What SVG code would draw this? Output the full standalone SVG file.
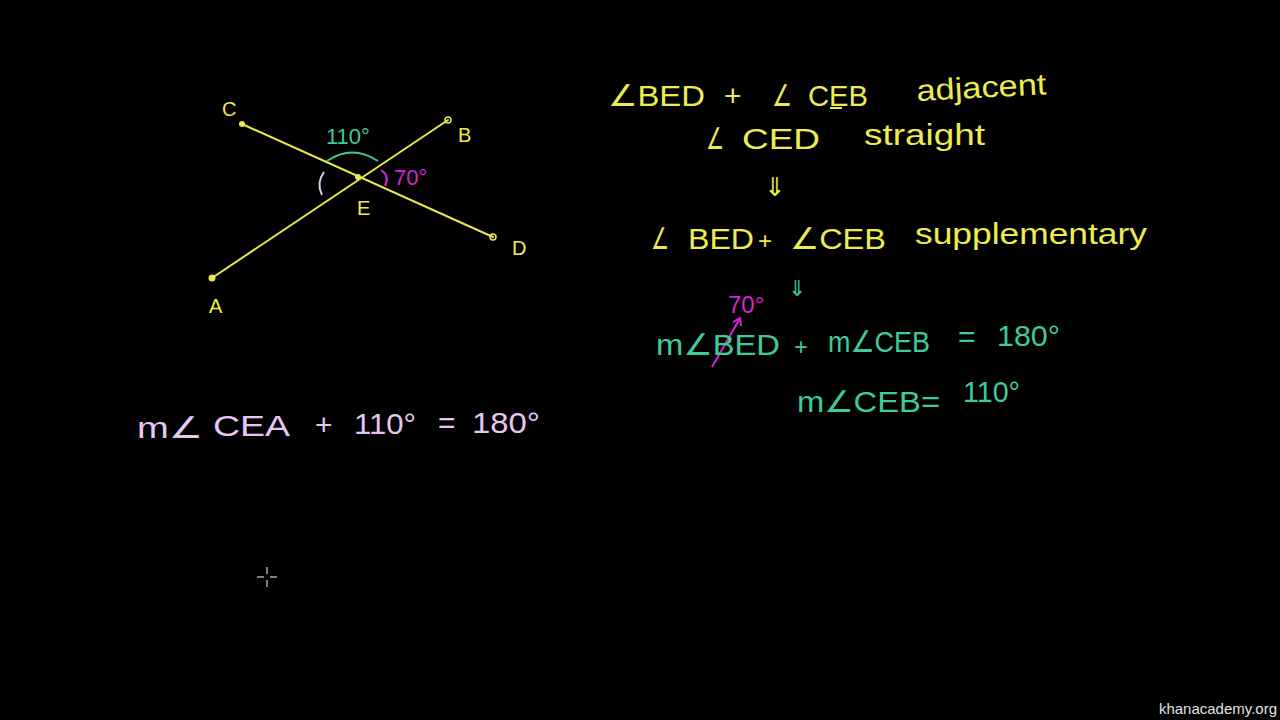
<svg xmlns="http://www.w3.org/2000/svg" width="1280" height="720" viewBox="0 0 1280 720">
<style>
text{font-family:"Liberation Sans","DejaVu Sans",sans-serif;font-size:30px;}
.y{fill:#ecec50;}
.g{fill:#3ecb98;}
.m{fill:#d624d6;}
.p{fill:#e6c6f2;}
.ln{stroke:#e8e84a;stroke-width:2;fill:none;stroke-linecap:round;}
.dot{fill:#e8e84a;}
.lbl{font-size:20px;}
</style>
<rect width="1280" height="720" fill="#000"/>
<g id="figure">
<line class="ln" x1="242" y1="124" x2="493" y2="237"/>
<line class="ln" x1="212" y1="278" x2="448" y2="120"/>
<circle class="dot" cx="242" cy="124" r="3"/>
<circle cx="448" cy="120" r="3" fill="none" stroke="#e8e84a" stroke-width="1.5"/>
<circle class="dot" cx="212" cy="278" r="3.5"/>
<circle cx="493" cy="237" r="3" fill="none" stroke="#e8e84a" stroke-width="1.5"/>
<circle class="dot" cx="358" cy="177" r="3"/>
<path d="M327 161 Q352 144 378 161" stroke="#3ecb98" stroke-width="2" fill="none"/>
<path d="M324 172 Q316 183 322 195" stroke="#e6c6f2" stroke-width="2" fill="none"/>
<path d="M381 170 Q390 176 385 186" stroke="#d624d6" stroke-width="2" fill="none"/>
<text class="y lbl" x="222" y="116">C</text>
<text class="y lbl" x="458" y="142">B</text>
<text class="y lbl" x="512" y="255">D</text>
<text class="y lbl" x="209" y="313">A</text>
<text class="y lbl" x="357" y="215">E</text>
<text class="g" x="326" y="144" style="font-size:22px">110°</text>
<text class="m" x="394" y="185" style="font-size:22px">70°</text>
</g>
<g id="notes">
<text class="y" x="608" y="106" textLength="97" lengthAdjust="spacingAndGlyphs">∠BED</text>
<text class="y" x="724" y="106">+</text>
<text class="y" x="772" y="106" textLength="20" lengthAdjust="spacingAndGlyphs">∠</text>
<text class="y" x="808" y="106" textLength="60" lengthAdjust="spacingAndGlyphs">CEB</text>
<line x1="830" y1="108" x2="842" y2="108" stroke="#ecec50" stroke-width="2"/>
<text class="y" x="917" y="101" textLength="130" lengthAdjust="spacingAndGlyphs" transform="rotate(-3 917 101)">adjacent</text>
<text class="y" x="706" y="149" textLength="18" lengthAdjust="spacingAndGlyphs">∠</text>
<text class="y" x="742" y="149" textLength="78" lengthAdjust="spacingAndGlyphs">CED</text>
<text class="y" x="864" y="145" textLength="121" lengthAdjust="spacingAndGlyphs">straight</text>
<text class="y" x="764" y="196" style="font-size:26px">⇓</text>
<text class="y" x="651" y="249" textLength="18" lengthAdjust="spacingAndGlyphs">∠</text>
<text class="y" x="688" y="249" textLength="66" lengthAdjust="spacingAndGlyphs">BED</text>
<text class="y" x="758" y="249" style="font-size:24px">+</text>
<text class="y" x="790" y="249" textLength="96" lengthAdjust="spacingAndGlyphs">∠CEB</text>
<text class="y" x="915" y="244" textLength="232" lengthAdjust="spacingAndGlyphs">supplementary</text>
<text class="g" x="788" y="296" style="font-size:22px">⇓</text>
<text class="m" x="728" y="313" style="font-size:24px">70°</text>
<line x1="712" y1="367" x2="739" y2="320" stroke="#d624d6" stroke-width="2"/>
<path d="M733 322 L740 318 L741 326" stroke="#d624d6" stroke-width="2" fill="none"/>
<text class="g" x="656" y="355" textLength="124" lengthAdjust="spacingAndGlyphs">m∠BED</text>
<text class="g" x="794" y="355" style="font-size:24px">+</text>
<text class="g" x="828" y="352" textLength="102" lengthAdjust="spacingAndGlyphs">m∠CEB</text>
<text class="g" x="958" y="347">=</text>
<text class="g" x="997" y="346" textLength="63" lengthAdjust="spacingAndGlyphs">180°</text>
<text class="g" x="797" y="412" textLength="143" lengthAdjust="spacingAndGlyphs">m∠CEB=</text>
<text class="g" x="963" y="402" textLength="57" lengthAdjust="spacingAndGlyphs">110°</text>
<text class="p" x="137" y="438" textLength="66" lengthAdjust="spacingAndGlyphs">m∠</text>
<text class="p" x="213" y="436" textLength="77" lengthAdjust="spacingAndGlyphs">CEA</text>
<text class="p" x="315" y="435">+</text>
<text class="p" x="354" y="434" textLength="62" lengthAdjust="spacingAndGlyphs">110°</text>
<text class="p" x="438" y="433">=</text>
<text class="p" x="472" y="433" textLength="68" lengthAdjust="spacingAndGlyphs">180°</text>
</g>
<g id="cursor" stroke="#fff" stroke-width="1">
<line x1="257" y1="577" x2="264" y2="577"/>
<line x1="270" y1="577" x2="277" y2="577"/>
<line x1="267" y1="567" x2="267" y2="574"/>
<line x1="267" y1="580" x2="267" y2="587"/>
</g>
<text x="1277" y="714" style="font-size:15px" fill="#e0e0e0" text-anchor="end">khanacademy.org</text>
</svg>
